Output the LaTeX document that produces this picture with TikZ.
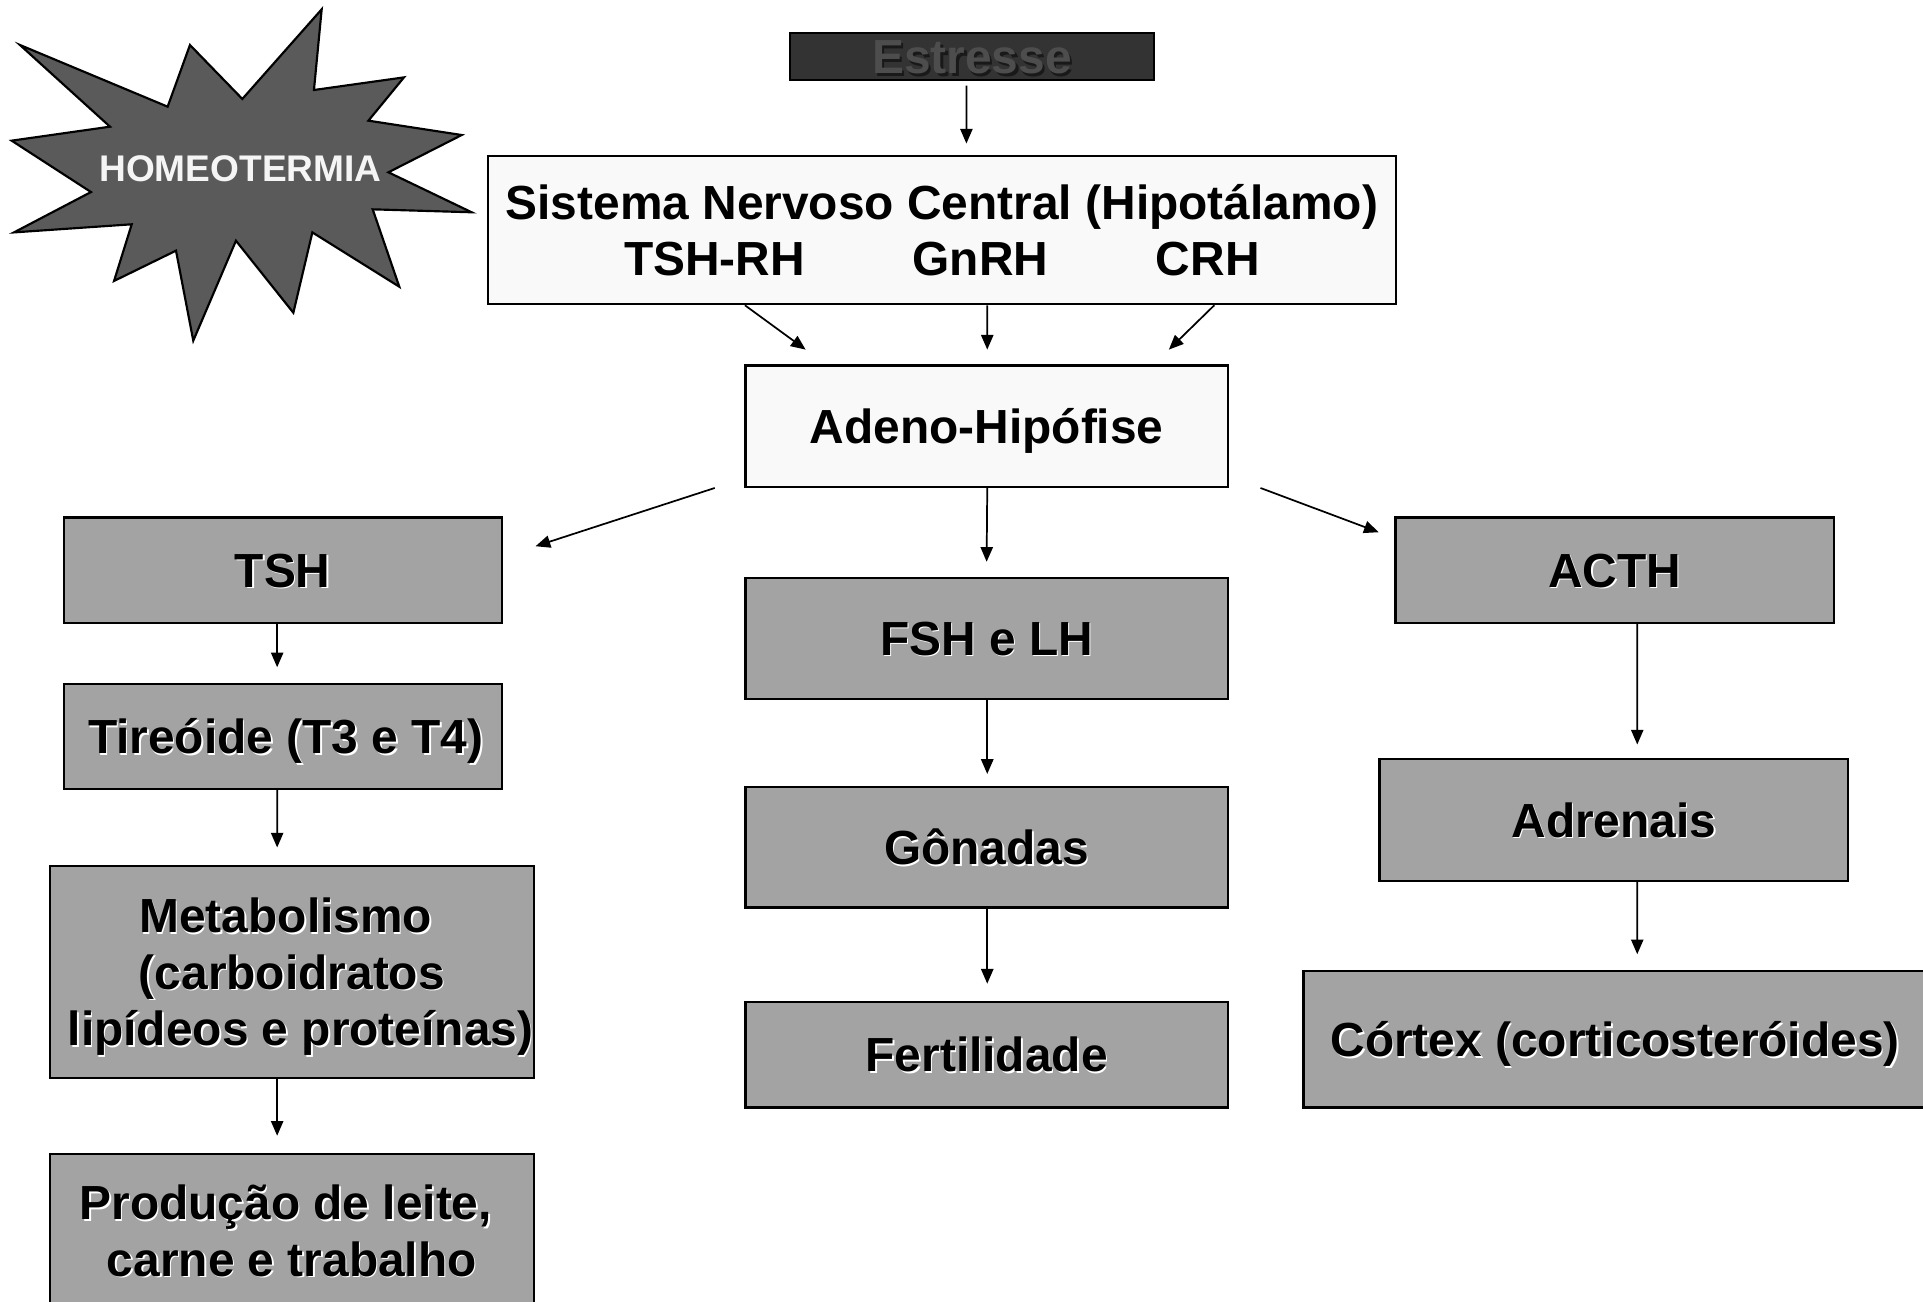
\documentclass[tikz,border=0pt]{standalone}
\usepackage{fontspec}
\setmainfont{Liberation Sans}
\usetikzlibrary{arrows.meta}
\definecolor{boxgray}{HTML}{A3A3A3}
\definecolor{boxwhite}{HTML}{F9F9F9}
\definecolor{estfill}{HTML}{333333}
\definecolor{esttxt}{HTML}{4D4D4D}
\definecolor{starfill}{HTML}{5A5A5A}
\definecolor{startxt}{HTML}{F5F5F5}
\newcommand\shw[1]{\leavevmode\rlap{\kern0.12mm\raisebox{-0.12mm}{\color{white}#1}}#1}
\newcommand\shk[1]{\leavevmode\rlap{\kern0.2mm\raisebox{-0.2mm}{\color{black!90}#1}}{\color{esttxt}#1}}
\begin{document}
\begin{tikzpicture}[x=0.01cm,y=-0.01cm,
  base/.style={draw=black, line width=0.5pt, inner sep=0pt, align=center,
    text depth=0pt,
    font=\fontsize{11.1pt}{13.1pt}\selectfont\bfseries},
  oneline/.style={text height=0.28cm},
  gbox/.style={base, fill=boxgray},
  wbox/.style={base, fill=boxwhite},
  ebox/.style={base, fill=estfill},
  arr/.style={-{Triangle[length=0.12cm,width=0.1cm]}, line width=0.4pt}]
\useasboundingbox (0,0) rectangle (1568,1061);
\fill[white] (0,0) rectangle (1568,1061);
\clip (0,0) rectangle (1568,1061);

% star
\draw[fill=starfill, line width=0.5pt, line join=miter]
  (16.3,36.7) -- (136.7,87.0) -- (154.9,36.7) -- (197.6,80.7) -- (262.3,7.6)
  -- (256.0,73.4) -- (329.4,63.1) -- (300.4,98.4) -- (376.5,110.1)
  -- (316.7,140.5) -- (384.6,173.1) -- (303.9,170.7) -- (325.6,233.8)
  -- (254.7,189.5) -- (239.2,255.0) -- (192.4,196.3) -- (157.6,277.8)
  -- (143.5,204.4) -- (93.0,229.1) -- (107.4,182.9) -- (11.4,189.5)
  -- (74.2,156.6) -- (9.5,114.7) -- (89.7,103.3) -- cycle;
\node[font=\fontsize{8.6pt}{10pt}\selectfont\bfseries, text=startxt,
  text height=0.215cm, text depth=0pt, inner sep=0pt] (homeo) at (196,137) {HOMEOTERMIA};

% boxes
\node[ebox, oneline, minimum width=2.97cm, minimum height=0.38cm] (est) at (792.5,46) {\shk{Estresse}};
\node[wbox, minimum width=7.40cm, minimum height=1.21cm] (snc) at (768,187.5)
  {Sistema Nervoso Central (Hipotálamo)\\TSH-RH\hspace{2.25em}GnRH\hspace{2.25em}CRH};
\node[wbox, oneline, minimum width=3.93cm, minimum height=0.99cm] (adeno) at (804.5,347.5) {Adeno-Hipófise};

\node[gbox, oneline, minimum width=3.57cm, minimum height=0.86cm] (tsh) at (230.5,465) {\shw{TSH}};
\node[gbox, oneline, minimum width=3.57cm, minimum height=0.85cm] (tir) at (230.5,600.5) {\hspace*{0.05cm}\shw{Tireóide (T3 e T4)}};
\node[gbox, minimum width=3.94cm, minimum height=1.73cm] (met) at (238,792.5)
  {\shw{Metabolismo}\hspace*{0.1cm}\\\shw{(carboidratos}\\\hspace*{0.14cm}\shw{lipídeos e proteínas)}};
\node[gbox, minimum width=3.94cm, minimum height=1.25cm] (prod) at (238,1003.5)
  {\shw{Produção de leite,}\hspace*{0.1cm}\\\shw{carne e trabalho}};

\node[gbox, oneline, minimum width=3.93cm, minimum height=0.99cm] (fsh) at (804.5,520.5) {\shw{FSH e LH}};
\node[gbox, oneline, minimum width=3.93cm, minimum height=0.98cm] (gon) at (804.5,691) {\shw{Gônadas}};
\node[gbox, oneline, minimum width=3.93cm, minimum height=0.86cm] (fert) at (804.5,860) {\shw{Fertilidade}};

\node[gbox, oneline, minimum width=3.57cm, minimum height=0.86cm] (acth) at (1316.5,465) {\shw{ACTH}};
\node[gbox, oneline, minimum width=3.82cm, minimum height=0.99cm] (adr) at (1316,668.5) {\shw{Adrenais}};
\node[gbox, oneline, minimum width=5.08cm, minimum height=1.11cm] (cor) at (1317,847.5) {\shw{Córtex (corticosteróides)}};

% connectors
\draw[arr] ([xshift=-0.045cm,yshift=-0.04cm]est.south) -- ([xshift=0.2cm,yshift=0.09cm]snc.north);
\draw[arr] ([xshift=-1.605cm]snc.south) -- ([xshift=-1.475cm,yshift=0.12cm]adeno.north);
\draw[arr] ([xshift=0.37cm]snc.south) -- ([xshift=0.005cm,yshift=0.12cm]adeno.north);
\draw[arr] ([xshift=2.22cm]snc.south) -- ([xshift=1.485cm,yshift=0.12cm]adeno.north);

\draw[arr] ([xshift=-0.242cm]adeno.south west) -- ([xshift=0.267cm,yshift=-0.243cm]tsh.north east);
\draw[arr] ([xshift=0.005cm]adeno.south) -- ([yshift=0.12cm]fsh.north);
\draw[arr] ([xshift=0.258cm]adeno.south east) -- ([xshift=-0.128cm,yshift=-0.129cm]acth.north west);

\draw[arr] ([xshift=-0.045cm]tsh.south) -- ([xshift=-0.045cm,yshift=0.13cm]tir.north);
\draw[arr] ([xshift=-0.045cm]tir.south) -- ([xshift=-0.12cm,yshift=0.14cm]met.north);
\draw[arr] ([xshift=-0.12cm]met.south) -- ([xshift=-0.12cm,yshift=0.14cm]prod.north);

\draw[arr] ([xshift=0.005cm]fsh.south) -- ([xshift=0.005cm,yshift=0.10cm]gon.north);
\draw[arr] ([xshift=0.005cm]gon.south) -- ([xshift=0.005cm,yshift=0.14cm]fert.north);

\draw[arr] ([xshift=0.185cm]acth.south) -- ([xshift=0.19cm,yshift=0.11cm]adr.north);
\draw[arr] ([xshift=0.19cm]adr.south) -- ([xshift=0.18cm,yshift=0.13cm]cor.north);
\end{tikzpicture}
\end{document}
